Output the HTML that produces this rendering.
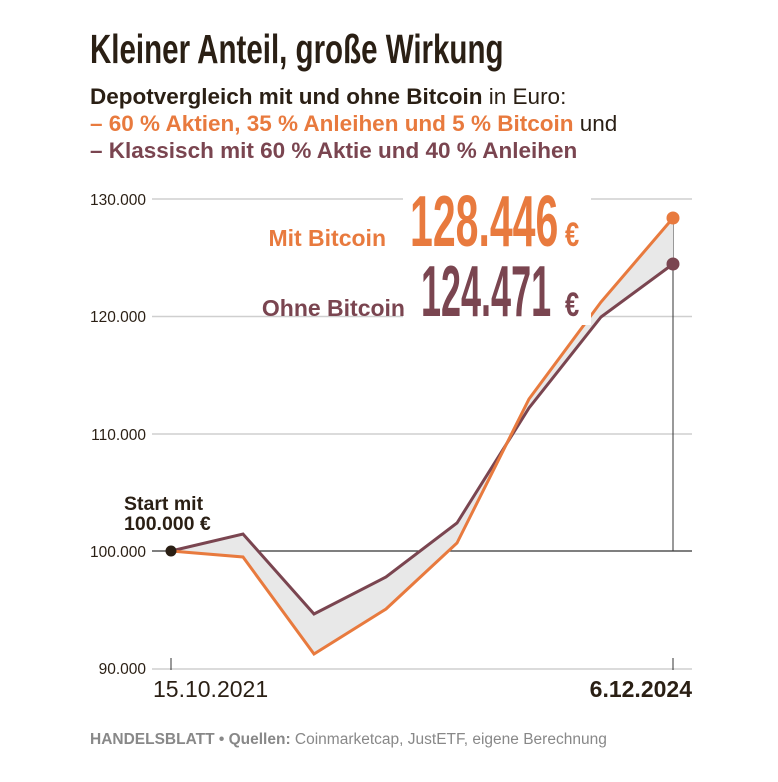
<!DOCTYPE html>
<html><head><meta charset="utf-8"><style>
body{margin:0;background:#fff;width:778px;height:777px;overflow:hidden;font-family:"Liberation Sans",sans-serif;}
</style></head><body>
<svg width="778" height="777" xmlns="http://www.w3.org/2000/svg" font-family="Liberation Sans, sans-serif">
<text x="90" y="63" font-size="41" font-weight="bold" fill="#2a1f14" transform="translate(90 0) scale(0.72 1) translate(-90 0)">Kleiner Anteil, große Wirkung</text>
<text x="90" y="104" font-size="22.5" fill="#2a1f14"><tspan font-weight="bold">Depotvergleich mit und ohne Bitcoin</tspan> in Euro:</text>
<text x="90" y="131" font-size="22.5" fill="#2a1f14"><tspan font-weight="bold" fill="#e87a3e">– 60 % Aktien, 35 % Anleihen und 5 % Bitcoin</tspan> und</text>
<text x="90" y="158" font-size="22.5" font-weight="bold" fill="#7a4550">– Klassisch mit 60 % Aktie und 40 % Anleihen</text>
<g stroke="#cfcfcf" stroke-width="1.5">
<line x1="152" y1="199" x2="692" y2="199"/><line x1="152" y1="316.5" x2="692" y2="316.5"/>
<line x1="152" y1="434" x2="692" y2="434"/><line x1="152" y1="669" x2="692" y2="669"/></g>
<line x1="152" y1="551" x2="692" y2="551" stroke="#333" stroke-width="1.2"/>
<line x1="673" y1="218" x2="673" y2="551" stroke="#333" stroke-width="1"/>
<line x1="171" y1="658" x2="171" y2="670" stroke="#333"/><line x1="673" y1="658" x2="673" y2="670" stroke="#333"/>
<g font-size="15.5" fill="#2a1f14" text-anchor="end">
<text x="146" y="205">130.000</text><text x="146" y="322">120.000</text><text x="146" y="440">110.000</text><text x="146" y="557">100.000</text><text x="146" y="674">90.000</text></g>
<polygon fill="#e8e8e8" points="171,551 243,557 314,654 386,609 457,543 529,399 601,302 673,218 673,264 601,317 529,408 457,523 386,577 314,614 243,534"/>
<polyline fill="none" stroke="#7a4550" stroke-width="3" points="171,551 243,534 314,614 386,577 457,523 529,408 601,317 673,264"/>
<polyline fill="none" stroke="#e87a3e" stroke-width="3" points="171,551 243,557 314,654 386,609 457,543 529,399 601,302 673,218"/>
<circle cx="673" cy="218" r="6.5" fill="#e87a3e"/><circle cx="673" cy="264" r="6.5" fill="#7a4550"/>
<circle cx="171" cy="551" r="5.5" fill="#2a1f14"/>
<text x="124" y="510" font-size="19.5" font-weight="bold" fill="#2a1f14">Start mit</text>
<text x="124" y="530" font-size="19.5" font-weight="bold" fill="#2a1f14">100.000 €</text>
<rect x="403" y="185" width="188" height="140" fill="#fff"/>
<text x="386" y="246" font-size="23" font-weight="bold" fill="#e87a3e" text-anchor="end">Mit Bitcoin</text>
<text x="410" y="246" font-size="72" font-weight="bold" fill="#e87a3e" transform="translate(410 0) scale(0.57 1) translate(-410 0)">128.446</text>
<text x="565" y="246" font-size="34" font-weight="bold" fill="#e87a3e" transform="translate(565 0) scale(0.75 1) translate(-565 0)">€</text>
<text x="405" y="316" font-size="23" font-weight="bold" fill="#7a4550" text-anchor="end">Ohne Bitcoin</text>
<text x="421" y="316" font-size="72" font-weight="bold" fill="#7a4550" transform="translate(421 0) scale(0.5 1) translate(-421 0)">124.471</text>
<text x="565" y="316" font-size="34" font-weight="bold" fill="#7a4550" transform="translate(565 0) scale(0.75 1) translate(-565 0)">€</text>
<text x="153" y="697" font-size="23" fill="#2a1f14">15.10.2021</text>
<text x="692" y="697" font-size="23" font-weight="bold" fill="#2a1f14" text-anchor="end">6.12.2024</text>
<text x="90" y="744" font-size="15.5" fill="#888"><tspan font-weight="bold">HANDELSBLATT • Quellen:</tspan> Coinmarketcap, JustETF, eigene Berechnung</text>
</svg>
</body></html>
